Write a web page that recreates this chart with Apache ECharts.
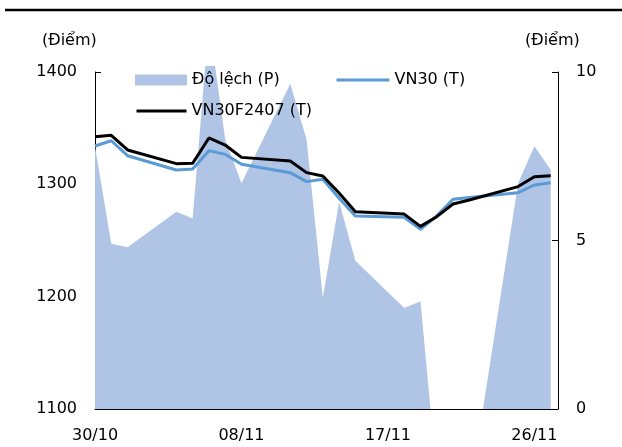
<!DOCTYPE html>
<html><head><meta charset="utf-8">
<script src="https://cdn.jsdelivr.net/npm/echarts@6/dist/echarts.min.js"></script>
<style>html,body{margin:0;padding:0;background:#fff}#c{width:622px;height:447px}</style>
</head><body><div id="c"></div>
<script>
const dates = ['30/10','31/10','01/11','04/11','05/11','06/11','07/11','08/11','11/11','12/11','13/11','14/11','15/11','18/11','19/11','20/11','21/11','22/11','25/11','26/11','27/11'];
const tickLabels = ['30/10','08/11','17/11','26/11'];
const vn30 = [1334.1,1338.8,1325.5,1312.8,1313.6,1330.0,1326.7,1317.8,1310.4,1302.4,1304.5,1287.6,1271.8,1270.6,1260.0,1272.0,1286.7,1288.3,1292.6,1299.4,1301.5];
const vn30f = [1342.4,1343.6,1330.6,1318.4,1318.7,1341.3,1335.0,1324.0,1320.8,1310.4,1307.4,1292.3,1275.6,1273.5,1262.6,1271.2,1282.5,1286.0,1298.0,1306.8,1307.7];
const deviation = [7.8,4.9,4.8,5.85,5.65,11.5,8.0,6.7,9.65,8.0,3.3,6.15,4.4,3.0,3.2,-2.0,-4.0,-2.6,6.7,7.8,7.1];
const leftTicks = [1100, 1400, 100];
const rightTicks = [0, 10, 5];

const YEAR = 2024;
function dayOffset(s){ const p = s.split('/').map(Number); return (Date.UTC(YEAR,p[1]-1,p[0]) - Date.UTC(YEAR,9,30)) / 86400000; }
const xs = dates.map(dayOffset);
const tickXs = tickLabels.map(dayOffset);
const labelOf = {}; tickLabels.forEach((t,i)=>{ labelOf[tickXs[i]] = t; });
const X_MAX = 28.45;
const FONT = 'DejaVu Sans';
const axisCol = '#000';
const chart = echarts.init(document.getElementById('c'));
const G = {left:95, right:64, bottom:38};
// area grid extends a little above the axis top (clip region)
const areaTop = 66, plotTop = 72, plotBottom = 409;
const areaMax = rightTicks[1] * (plotBottom - areaTop) / (plotBottom - plotTop);

const ls = {color:axisCol, width:1};
const txt = {color:'#000', fontSize:16, fontFamily:FONT};
chart.setOption({
  animation:false,
  grid:[
    {left:G.left, right:G.right, top:plotTop, bottom:G.bottom},
    {left:G.left, right:G.right, top:areaTop, bottom:G.bottom}
  ],
  xAxis:[
    {gridIndex:0, type:'value', min:0, max:X_MAX, splitLine:{show:false},
     axisLine:{lineStyle:ls},
     axisTick:{inside:true, length:6, lineStyle:ls, customValues:tickXs},
     axisLabel:Object.assign({customValues:tickXs, formatter:v=>labelOf[v]||'', margin:19}, txt)},
    {gridIndex:1, type:'value', min:0, max:X_MAX, show:false}
  ],
  yAxis:[
    {gridIndex:0, type:'value', min:leftTicks[0], max:leftTicks[1], interval:leftTicks[2], position:'left',
     splitLine:{show:false}, axisLine:{show:true, lineStyle:ls},
     axisTick:{show:true, inside:true, length:6, lineStyle:ls},
     axisLabel:Object.assign({margin:18, formatter:v=>String(v)}, txt)},
    {gridIndex:0, type:'value', min:rightTicks[0], max:rightTicks[1], interval:rightTicks[2], position:'right',
     splitLine:{show:false}, axisLine:{show:true, lineStyle:ls},
     axisTick:{show:true, inside:true, length:6, lineStyle:ls},
     axisLabel:Object.assign({margin:18, formatter:v=>String(v)}, txt)},
    {gridIndex:1, type:'value', min:0, max:areaMax, show:false}
  ],
  legend:[
    {data:[{name:'Độ lệch (P)', icon:'rect'}], left:135, top:72, itemWidth:52, itemHeight:11, padding:0, textStyle:txt},
    {data:['VN30 (T)'], left:335, top:72, itemWidth:53, itemHeight:11, padding:0, textStyle:txt,
     itemStyle:{opacity:0}, lineStyle:{width:3}},
    {data:['VN30F2407 (T)'], left:135, top:103, itemWidth:50, itemHeight:11, padding:0, textStyle:txt,
     itemStyle:{opacity:0}, lineStyle:{width:3}}
  ],
  graphic:[
    {type:'line', shape:{x1:5, y1:10, x2:622, y2:10}, style:{stroke:'#000', lineWidth:2.5}},
    {type:'text', left:42, top:33, style:{text:'(Điểm)', fill:'#000', font:'16px "DejaVu Sans"'}},
    {type:'text', left:525, top:33, style:{text:'(Điểm)', fill:'#000', font:'16px "DejaVu Sans"'}}
  ],
  series:[
    {name:'Độ lệch (P)', type:'line', xAxisIndex:1, yAxisIndex:2, data:xs.map((x,i)=>[x,deviation[i]]),
     symbol:'none', lineStyle:{width:0}, itemStyle:{color:'#B0C4E6'}, areaStyle:{color:'#B0C4E6', opacity:1}, z:1},
    {name:'VN30 (T)', type:'line', xAxisIndex:0, yAxisIndex:0, data:xs.map((x,i)=>[x,vn30[i]]),
     symbol:'none', lineStyle:{width:3, color:'#5B9BD5'}, itemStyle:{color:'#5B9BD5'}, z:3},
    {name:'VN30F2407 (T)', type:'line', xAxisIndex:0, yAxisIndex:0, data:xs.map((x,i)=>[x,vn30f[i]]),
     symbol:'none', lineStyle:{width:3, color:'#000'}, itemStyle:{color:'#000'}, z:4}
  ]
});
</script></body></html>
